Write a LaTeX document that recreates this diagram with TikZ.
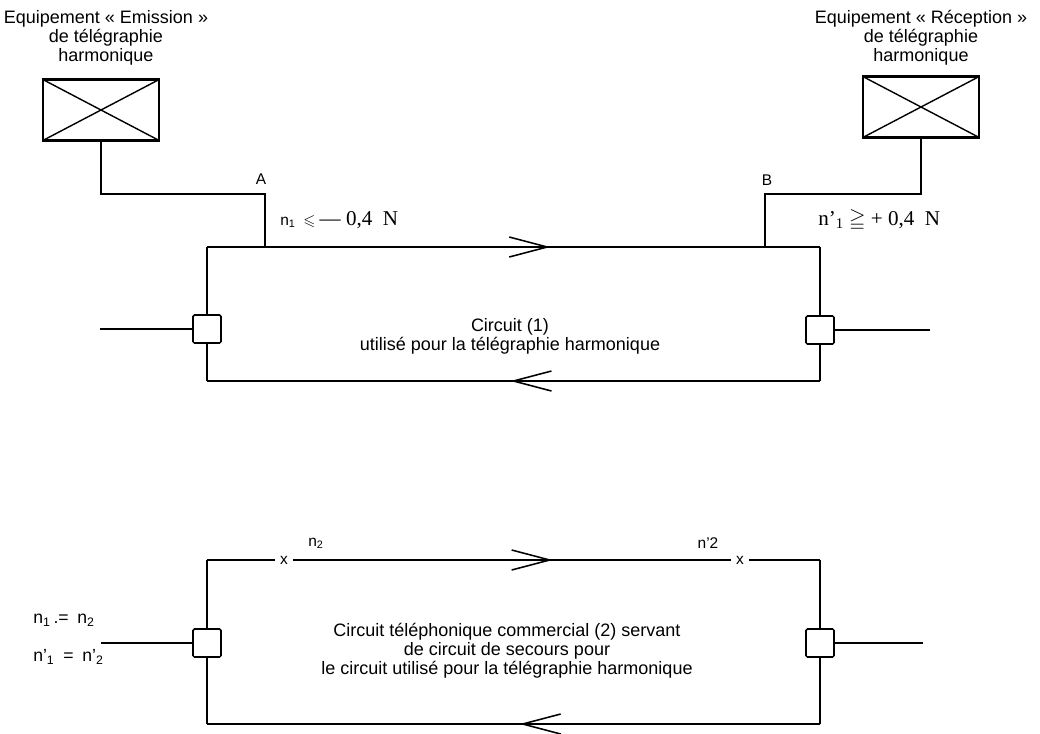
\documentclass[tikz,border=0pt]{standalone}
\usepackage{amssymb}
\usepackage{fontspec}
\setmainfont{Liberation Sans}
\newfontfamily\serifnum{Liberation Serif}
\usetikzlibrary{arrows.meta, decorations.markings, positioning}

\tikzset{
  wire/.style={line width=1.1pt},
  equip/.style={draw, line width=1.6pt, minimum width=2.9cm, minimum height=1.52cm, inner sep=0pt,
    path picture={\draw[line width=1pt] (path picture bounding box.north west) -- (path picture bounding box.south east)
      (path picture bounding box.south west) -- (path picture bounding box.north east);}},
  jack/.style={draw, line width=1.1pt, rounded corners=1pt, minimum size=0.7cm, inner sep=0pt, fill=white},
  caption/.style={font=\fontsize{12.8}{13.6}\selectfont, align=center, inner sep=0pt},
  small/.style={font=\fontsize{11}{13}\selectfont, inner sep=0pt},
  chevron/.style={decoration={markings, mark=at position #1 with {\arrow{Straight Barb[length=0.95cm, width=0.5cm, line width=1.1pt]}}}, postaction=decorate}
}

\begin{document}
\begin{tikzpicture}[x=0.025cm, y=-0.025cm]
  \useasboundingbox (0,0) rectangle (1040,733);

  % Equipments
  \node[caption] (emistext) at (106,38) {Equipement « Emission »\\de télégraphie\\harmonique};
  \node[equip] (emis) at (101,110) {};
  \node[caption] (receptext) at (921,38) {Equipement « Réception »\\de télégraphie\\harmonique};
  \node[equip] (recep) at (921,107) {};

  % Circuit (1)
  \coordinate (c1tl) at (207,247);
  \coordinate (c1tr) at (820,247);
  \coordinate (c1bl) at (207,381);
  \coordinate (c1br) at (820,381);
  \coordinate (A) at (265,194);
  \coordinate (jA) at (265,247);
  \coordinate (B) at (765,194);
  \coordinate (jB) at (765,247);
  \node[jack] (sqTL) at (207,329) {};
  \node[jack] (sqTR) at (820,330) {};
  \coordinate (endTL) at (100,329);
  \coordinate (endTR) at (930,330);

  \draw[wire] (emis.south) |- (A) -- (jA);
  \draw[wire] (recep.south) |- (B) -- (jB);
  \draw[wire, chevron=0.56] (c1tl) -- (c1tr);
  \draw[wire, chevron=0.505] (c1br) -- (c1bl);
  \draw[wire] (sqTL.north) -- (c1tl);
  \draw[wire] (sqTL.south) -- (c1bl);
  \draw[wire] (sqTR.north) -- (c1tr);
  \draw[wire] (sqTR.south) -- (c1br);
  \draw[wire] (endTL) -- (sqTL.west);
  \draw[wire] (sqTR.east) -- (endTR);

  \node[small] (lblA) at (261,179) {A};
  \node[small] (lblB) at (767,180) {B};
  \node[anchor=west, inner sep=0pt] (levA) at (280,220) {\fontsize{11}{13}\selectfont n\textsubscript{1}\enspace$\leqslant$ {\serifnum\fontsize{15}{17}\selectfont — 0,4\enspace N}};
  \node[anchor=west, inner sep=0pt] (levB) at (818,220) {\serifnum\fontsize{15}{17}\selectfont n’\textsubscript{1} $\geqq$ + 0,4\enspace N};
  \node[caption] (circ1) at (510,336) {Circuit (1)\\utilisé pour la télégraphie harmonique};

  % Circuit (2)
  \coordinate (c2tl) at (207,560);
  \coordinate (c2tr) at (820,560);
  \coordinate (c2bl) at (207,724);
  \coordinate (c2br) at (820,724);
  \node[small, inner sep=3.5pt] (xa) at (284,560) {x};
  \node[small, inner sep=3.5pt] (xb) at (740,560) {x};
  \node[jack] (sqBL) at (207,643) {};
  \node[jack] (sqBR) at (820,643) {};
  \coordinate (endBL) at (101,643);
  \coordinate (endBR) at (923,643);

  \draw[wire] (c2tl) -- (xa.west);
  \draw[wire, chevron=0.593] (xa.east) -- (xb.west);
  \draw[wire] (xb.east) -- (c2tr);
  \draw[wire, chevron=0.49] (c2br) -- (c2bl);
  \draw[wire] (sqBL.north) -- (c2tl);
  \draw[wire] (sqBL.south) -- (c2bl);
  \draw[wire] (sqBR.north) -- (c2tr);
  \draw[wire] (sqBR.south) -- (c2br);
  \draw[wire] (endBL) -- (sqBL.west);
  \draw[wire] (sqBR.east) -- (endBR);

  \node[small] (lvn2) at (316,543) {n\textsubscript{2}};
  \node[small] (lvnp2) at (708,543) {n’2};
  \node[anchor=west, inner sep=0pt, font=\fontsize{12.5}{14}\selectfont] (eqa) at (33,620) {n\textsubscript{1}\,.=\enspace n\textsubscript{2}};
  \node[anchor=west, inner sep=0pt, font=\fontsize{12.5}{14}\selectfont] (eqb) at (33,657) {n’\textsubscript{1}\enspace=\enspace n’\textsubscript{2}};
  \node[caption] (circ2) at (507,651) {Circuit téléphonique commercial (2) servant\\de circuit de secours pour\\le circuit utilisé pour la télégraphie harmonique};
\end{tikzpicture}
\end{document}
